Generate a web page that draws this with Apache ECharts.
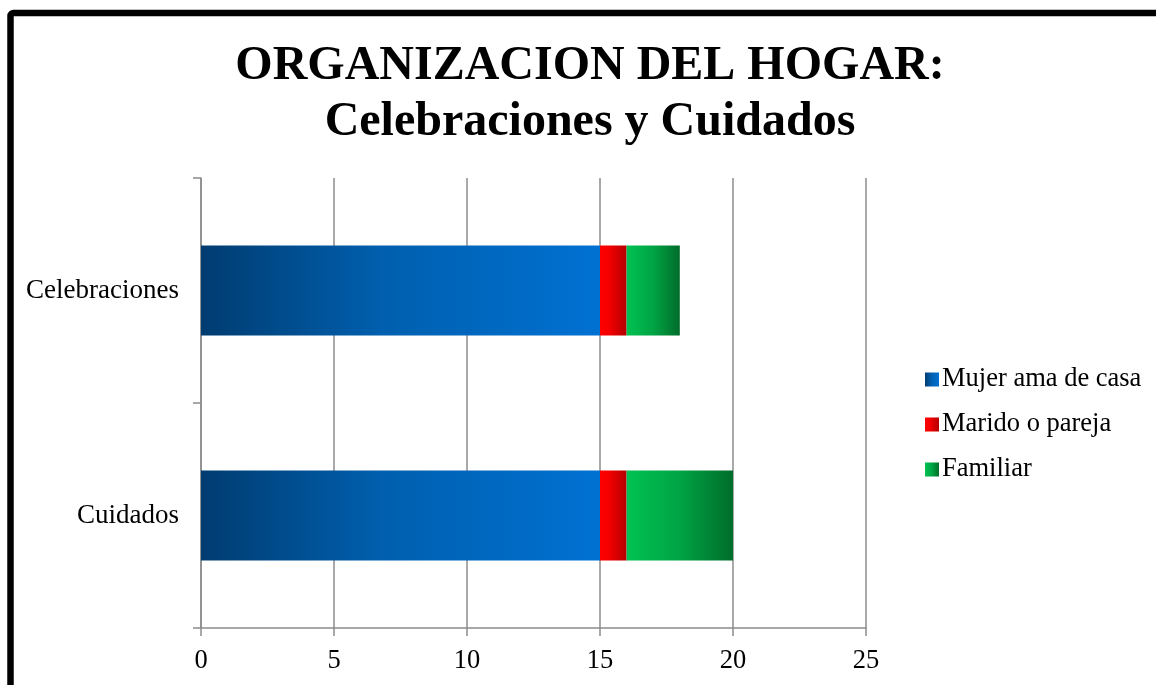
<!DOCTYPE html>
<html>
<head>
<meta charset="utf-8">
<script src="https://cdn.jsdelivr.net/npm/echarts@6/dist/echarts.min.js"></script>
<style>
  html, body { margin: 0; padding: 0; background: #fff; }
  #chart { width: 1156px; height: 685px; }
</style>
</head>
<body>
<div id="chart"></div>
<script>
// categories, bottom to top like the original
const categories = ["Cuidados", "Celebraciones"];
const mujerAmaDeCasa = [15, 15];
const maridoOPareja = [1, 1];
const familiar = [4, 2];
const xTicks = [0, 5, 10, 15, 20, 25];

const serif = "'Liberation Serif', 'Times New Roman', serif";
const grey = "#8c8c8c";

// horizontal gradient for each bar segment
const grad = (stops) => new echarts.graphic.LinearGradient(0, 0, 1, 0,
  stops.map(([offset, color]) => ({ offset, color })));

const blueFill = grad([[0, "#003c70"], [0.45, "#005fae"], [1, "#0071d2"]]);
const redFill = grad([[0, "#ff0000"], [0.35, "#f40000"], [1, "#b40000"]]);
const greenFill = grad([[0, "#00c252"], [0.5, "#00a444"], [1, "#006c2a"]]);

const chart = echarts.init(document.getElementById("chart"));

const option = {
  backgroundColor: "#fff",
  animation: false,
  title: {
    text: "ORGANIZACION DEL HOGAR:\nCelebraciones y Cuidados",
    left: 590,
    textAlign: "center",
    top: 39,
    padding: 0,
    textStyle: {
      fontFamily: serif,
      fontWeight: "bold",
      fontSize: 48,
      lineHeight: 56,
      color: "#000"
    }
  },
  legend: {
    orient: "vertical",
    left: 920,
    top: 361,
    itemWidth: 14,
    itemHeight: 14,
    itemGap: 18,
    icon: "rect",
    textStyle: { fontFamily: serif, fontSize: 26.5, color: "#000", padding: [0, 0, 0, -2] },
    data: ["Mujer ama de casa", "Marido o pareja", "Familiar"]
  },
  grid: { left: 201, right: 290, top: 178, bottom: 57, containLabel: false },
  xAxis: {
    type: "value",
    min: xTicks[0],
    max: xTicks[xTicks.length - 1],
    interval: 5,
    axisLine: { show: true, lineStyle: { color: grey, width: 1.5 } },
    axisTick: { show: true, length: 8, lineStyle: { color: grey, width: 1.5 } },
    axisLabel: { fontFamily: serif, fontSize: 26.5, color: "#000", margin: 20 },
    splitLine: { show: true, lineStyle: { color: grey, width: 1.5 } }
  },
  yAxis: {
    type: "category",
    data: categories,
    axisLine: { show: true, lineStyle: { color: grey, width: 1.5 } },
    axisTick: { show: true, length: 8, lineStyle: { color: grey, width: 1.5 } },
    axisLabel: { fontFamily: serif, fontSize: 27, color: "#000", margin: 22 }
  },
  series: [
    { name: "Mujer ama de casa", type: "bar", stack: "total", barWidth: "40%",
      itemStyle: { color: blueFill }, data: mujerAmaDeCasa },
    { name: "Marido o pareja", type: "bar", stack: "total", barWidth: "40%",
      itemStyle: { color: redFill }, data: maridoOPareja },
    { name: "Familiar", type: "bar", stack: "total", barWidth: "40%",
      itemStyle: { color: greenFill }, data: familiar }
  ],
  graphic: [{
    type: "rect",
    silent: true,
    shape: { x: 10.5, y: 13, width: 1300, height: 900, r: 3 },
    style: { fill: null, stroke: "#000", lineWidth: 6.5 }
  }]
};

chart.setOption(option);
</script>
</body>
</html>
